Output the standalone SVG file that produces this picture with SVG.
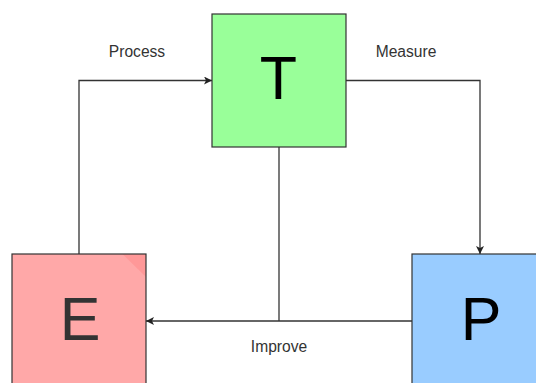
<svg xmlns="http://www.w3.org/2000/svg" width="536" height="383" viewBox="0 0 536 383">
  <defs>
    <style>
      .box { stroke: #333333; stroke-width: 1.2; }
      .edge { fill: none; stroke: #333333; stroke-width: 1.2; }
      .big { font-family: "Liberation Sans", Arial, sans-serif; font-size: 61px; text-anchor: middle; }
      .lbl { font-family: "Liberation Sans", Arial, sans-serif; font-size: 15.6px; fill: #333333; text-anchor: middle; }
      .wire { fill: none; stroke: #333333; stroke-width: 1.3; }
    </style>
    <marker id="arrow" viewBox="0 0 10 10" refX="10" refY="5" markerWidth="10" markerHeight="8" markerUnits="userSpaceOnUse" orient="auto">
      <path d="M0,0 L10,5 L0,10 L2.5,5 Z" fill="#222222"/>
    </marker>
  </defs>

  <rect width="536" height="383" fill="#ffffff"/>

  <!-- connectors -->
  <g id="connectors">
    <path class="wire" d="M79,254 V80.5 H212" marker-end="url(#arrow)"/>
    <path class="wire" d="M346,80.5 H480 V254" marker-end="url(#arrow)"/>
    <path class="wire" d="M279,147 V321"/>
    <path class="wire" d="M412,321 H146" marker-end="url(#arrow)"/>
    <text class="lbl" x="137" y="56.5">Process</text>
    <text class="lbl" x="406" y="56.5">Measure</text>
    <text class="lbl" x="279" y="351.5">Improve</text>
  </g>

  <!-- T node -->
  <g id="node-T">
    <rect class="box" x="212" y="14" width="134" height="133" fill="#99ff99"/>
    <text class="big" x="278.5" y="99" fill="#000000">T</text>
  </g>

  <!-- E node: folded corner shading under the outline -->
  <g id="node-E">
    <rect x="12" y="254" width="134" height="140" fill="#ffa8a8"/>
    <path d="M122.5,254 H146 V277 Z" fill="#ff9898"/>
    <rect class="edge" x="12" y="254" width="134" height="140"/>
    <text class="big" x="80" y="340" fill="#333333">E</text>
  </g>

  <!-- P node -->
  <g id="node-P">
    <rect class="box" x="412" y="254" width="136" height="140" fill="#99ccff"/>
    <text class="big" x="481" y="339.5" fill="#000000">P</text>
  </g>
</svg>
